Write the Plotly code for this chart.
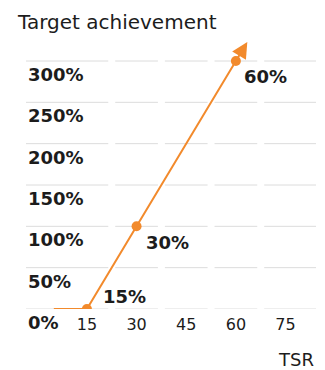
import plotly.graph_objects as go

# TSR (x) versus target achievement in percent (y)
tsr = [5, 15, 30, 60]
achievement = [0, 0, 100, 300]

# labelled kink points
point_tsr = [15, 30, 60]
point_ach = [0, 100, 300]
point_labels = ["15%", "30%", "60%"]

x_ticks = [15, 30, 45, 60, 75]
y_ticks = [0, 50, 100, 150, 200, 250, 300]
y_tick_labels = ["0%", "50%", "100%", "150%", "200%", "250%", "300%"]

ORANGE = "#F28A2C"
INK = "#1c1c1c"
GRID = "#dcdcdc"
FONT = "DejaVu Sans"

X_RANGE = [-3.4, 84.2]
Y_RANGE = [0, 337.5]

fig = go.Figure()

# segmented horizontal gridlines: one segment per TSR band, small gaps between bands
gap = 1.05
edges = [X_RANGE[0]] + [(a + b) / 2 for a, b in zip(x_ticks[:-1], x_ticks[1:])] + [X_RANGE[1]]
for v in y_ticks:
    for i in range(len(edges) - 1):
        x0 = edges[i] + (gap if i > 0 else 0)
        x1 = edges[i + 1] - (gap if i < len(edges) - 2 else 0)
        fig.add_shape(type="line", x0=x0, x1=x1, y0=v, y1=v, xref="x", yref="y",
                      line=dict(color=GRID, width=1), layer="below")

# payout curve
fig.add_trace(go.Scatter(x=tsr, y=achievement, mode="lines",
                         line=dict(color=ORANGE, width=2), hoverinfo="skip"))
fig.add_trace(go.Scatter(x=point_tsr, y=point_ach, mode="markers",
                         marker=dict(color=ORANGE, size=10), hoverinfo="skip"))

# arrow continuing the last segment beyond the final point
frac = 0.115
tip_x = tsr[-1] + frac * (tsr[-1] - tsr[-2])
tip_y = achievement[-1] + frac * (achievement[-1] - achievement[-2])
fig.add_annotation(x=tip_x, y=tip_y, ax=tsr[-1], ay=achievement[-1],
                   xref="x", yref="y", axref="x", ayref="y", text="",
                   showarrow=True, arrowhead=2, arrowsize=1.6, arrowwidth=2,
                   arrowcolor=ORANGE)

# point labels (offsets in pixels)
label_offsets = [(38, 13), (31, -16), (30, -15)]
for xv, yv, txt, (dx, dy) in zip(point_tsr, point_ach, point_labels, label_offsets):
    fig.add_annotation(x=xv, y=yv, text=f"<b>{txt}</b>", showarrow=False,
                       xshift=dx, yshift=dy, font=dict(family=FONT, size=18, color=INK))

# y labels sit just under their gridline, left aligned
for v, txt in zip(y_ticks, y_tick_labels):
    fig.add_annotation(x=0, xref="paper", y=v, yref="y", text=f"<b>{txt}</b>",
                       showarrow=False, xanchor="left", yanchor="top", yshift=-1,
                       font=dict(family=FONT, size=18, color=INK))

fig.add_annotation(x=1.0, xref="paper", y=-0.18, yref="paper", text="TSR",
                   showarrow=False, xanchor="right", yanchor="middle",
                   font=dict(family=FONT, size=18, color=INK))

fig.update_layout(
    width=325, height=370,
    margin=dict(l=26, r=9, t=30, b=61),
    paper_bgcolor="white", plot_bgcolor="white",
    showlegend=False,
    title=dict(text="Target achievement", x=18 / 325, xanchor="left",
               y=1 - 22 / 370, yanchor="middle", yref="container",
               font=dict(family=FONT, size=20, color=INK)),
    xaxis=dict(range=X_RANGE, tickvals=x_ticks, ticktext=[str(t) for t in x_ticks],
               showgrid=False, zeroline=False, showline=False, ticks="",
               tickfont=dict(family=FONT, size=16, color=INK), ticklabelstandoff=4),
    yaxis=dict(range=Y_RANGE, showgrid=False, zeroline=False, showline=False,
               showticklabels=False, ticks=""),
)

fig.write_html("out.html")
